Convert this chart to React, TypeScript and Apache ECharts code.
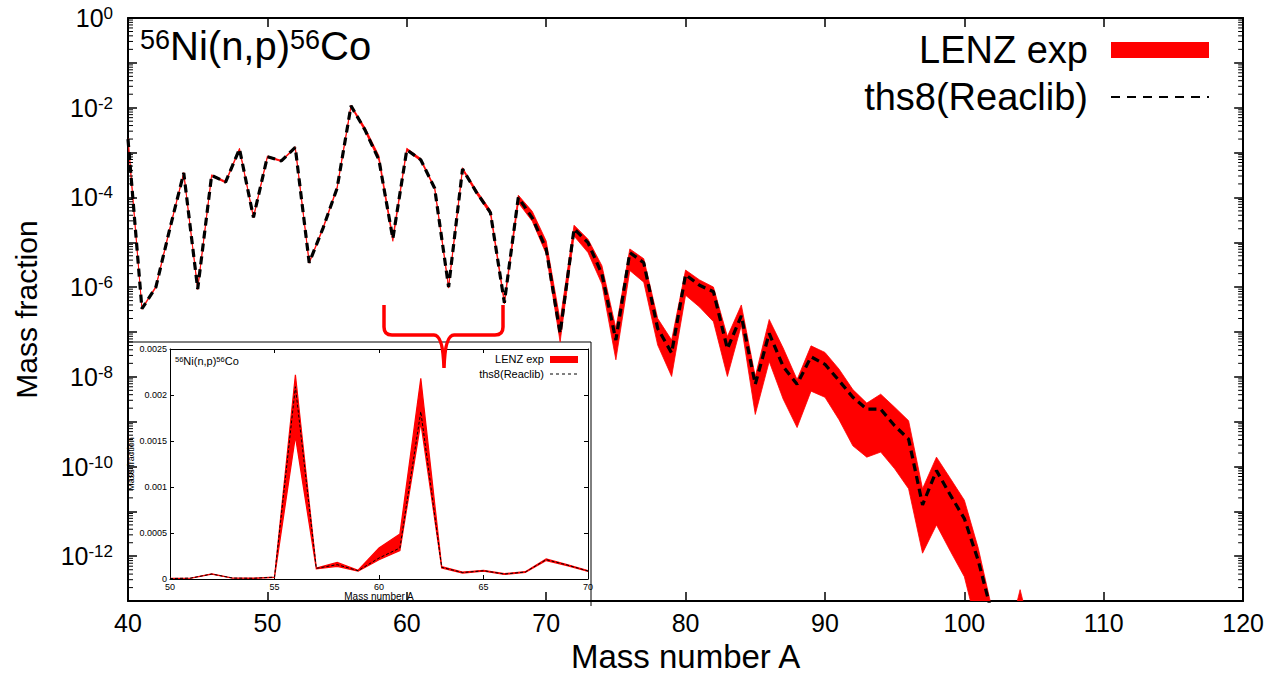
import React, { useEffect, useRef } from 'react';
import * as echarts from 'echarts';

const FONT = '"Liberation Sans", Arial, Helvetica, sans-serif';

// ---------- main plot data (log scale) ----------
const massNumbers = [
  40, 41, 42, 43, 44, 45, 46, 47, 48, 49,
  50, 51, 52, 53, 54, 55, 56, 57, 58, 59,
  60, 61, 62, 63, 64, 65, 66, 67, 68, 69,
  70, 71, 72, 73, 74, 75, 76, 77, 78, 79,
  80, 81, 82, 83, 84, 85, 86, 87, 88, 89,
  90, 91, 92, 93, 94, 95, 96, 97, 98, 99,
  100, 101, 102, 103, 104, 105,
];

const ths8Reaclib = [
  2.0e-3, 3.3e-7, 1.0e-6, 2.0e-5, 3.5e-4, 9.1e-7, 3.1e-4, 2.2e-4, 1.2e-3, 3.6e-5,
  8.1e-4, 6.5e-4, 1.3e-3, 3.5e-6, 2.1e-5, 1.6e-4, 1.1e-2, 3.2e-3, 6.9e-4, 1.2e-5,
  1.15e-3, 6.9e-4, 1.6e-4, 1.0e-6, 4.3e-4, 1.3e-4, 4.6e-5, 4.5e-7, 1.0e-4, 3.5e-5,
  7.1e-6, 9.3e-8, 2.0e-5, 9.8e-6, 1.95e-6, 6.6e-8, 5.9e-6, 3.5e-6, 1.2e-7, 3.4e-8,
  1.9e-6, 1.1e-6, 7.9e-7, 4.2e-8, 2.3e-7, 6.8e-9, 9.3e-8, 1.7e-8, 6.8e-9, 2.8e-8,
  1.9e-8, 8.3e-9, 3.5e-9, 1.9e-9, 1.9e-9, 8.1e-10, 4.1e-10, 1.4e-11, 8.1e-11, 2.3e-11,
  6.9e-12, 7.9e-13, 5.0e-14,
];

const lenzUpper = [
  2.1e-3, 3.4e-7, 1.05e-6, 2.1e-5, 3.6e-4, 9.4e-7, 3.2e-4, 2.3e-4, 1.25e-3, 3.7e-5,
  8.4e-4, 6.7e-4, 1.35e-3, 3.6e-6, 2.2e-5, 1.7e-4, 1.15e-2, 3.6e-3, 8.5e-4, 1.3e-5,
  1.25e-3, 7.4e-4, 1.7e-4, 1.05e-6, 4.6e-4, 1.45e-4, 5.2e-5, 5.0e-7, 1.12e-4, 4.9e-5,
  1.07e-5, 1.8e-7, 2.4e-5, 1.17e-5, 3.0e-6, 1.2e-7, 7.1e-6, 4.3e-6, 2.0e-7, 6.6e-8,
  2.4e-6, 1.45e-6, 1.0e-6, 7.9e-8, 4.0e-7, 1.02e-8, 1.9e-7, 4.4e-8, 8.7e-9, 4.9e-8,
  3.5e-8, 1.5e-8, 5.2e-9, 2.6e-9, 4.1e-9, 2.1e-9, 1.05e-9, 3.2e-11, 1.62e-10, 5.4e-11,
  1.78e-11, 1.5e-12, 6.3e-14, 1.0e-14, 1.8e-13, 1.0e-14,
];

const lenzLower = [
  1.95e-3, 3.2e-7, 9.7e-7, 1.95e-5, 3.4e-4, 8.8e-7, 3.0e-4, 2.1e-4, 1.15e-3, 3.5e-5,
  7.8e-4, 6.3e-4, 1.25e-3, 3.4e-6, 2.0e-5, 1.55e-4, 1.05e-2, 3.0e-3, 6.6e-4, 1.05e-5,
  1.1e-3, 6.5e-4, 1.55e-4, 9.5e-7, 4.1e-4, 1.2e-4, 4.2e-5, 4.2e-7, 7.6e-5, 2.95e-5,
  5.5e-6, 6.0e-8, 1.38e-5, 5.9e-6, 1.17e-6, 2.4e-8, 2.34e-6, 1.29e-6, 5.1e-8, 1.02e-8,
  6.6e-7, 3.6e-7, 1.7e-7, 1.02e-8, 1.41e-7, 1.45e-9, 2.2e-8, 3.2e-9, 7.4e-10, 4.8e-9,
  3.5e-9, 1.12e-9, 2.9e-10, 1.62e-10, 2.1e-10, 8.9e-11, 3.2e-11, 1.17e-12, 5.0e-12, 1.29e-12,
  3.5e-13, 2.0e-14, 3.2e-15, 1.0e-15, 3.2e-15, 1.0e-15,
];

// ---------- inset data (linear scale) ----------
const insetMass = [50, 51, 52, 53, 54, 55, 56, 57, 58, 59, 60, 61, 62, 63, 64, 65, 66, 67, 68, 69, 70];
const insetThs8 = [
  0.000005, 0.00001, 0.000054, 0.00001, 0.000008, 0.00002, 0.00209, 0.000116, 0.000156, 0.00009,
  0.000228, 0.000337, 0.00182, 0.000127, 0.00007, 0.00009, 0.000054, 0.000076, 0.00021, 0.000152, 0.000087,
];
const insetUpper = [
  0.000006, 0.000011, 0.000056, 0.000011, 0.000009, 0.000022, 0.00222, 0.00012, 0.00018, 0.000095,
  0.000337, 0.00049, 0.00218, 0.000135, 0.000075, 0.000095, 0.000058, 0.00008, 0.000218, 0.000158, 0.00009,
];
const insetLower = [
  0.000004, 0.000009, 0.000052, 0.000009, 0.000007, 0.000018, 0.00155, 0.00011, 0.000138, 0.000085,
  0.00021, 0.00031, 0.0017, 0.00012, 0.000065, 0.000085, 0.00005, 0.000072, 0.0002, 0.000145, 0.000084,
];

// ---------- axis ticks ----------
const mainXTicks = { min: 40, max: 120, interval: 10 };
const insetXTicks = { min: 50, max: 70, interval: 5 };
const insetYTicks = { min: 0, max: 0.0025, interval: 0.0005 };
const logMin = 1e-13;
const logMax = 1;
const minorMantissas = [2, 3, 4, 5, 6, 7, 8, 9];
const minorDecades = [-13, -12, -11, -10, -9, -8, -7, -6, -5, -4, -3, -2, -1];

const BRACE_PATH =
  'M384,305 L384,327 Q384,335 392,335 L434,335 Q443,335 444,368 Q445,335 454,335 L495,335 Q503,335 503,327 L503,305';

let shapeRegistered = false;
function registerShapes() {
  if (shapeRegistered) return;
  echarts.graphic.registerShape('brace', echarts.graphic.extendPath(BRACE_PATH, {}));
  shapeRegistered = true;
}

function bandSeries(name: string, xs: number[], up: number[], lo: number[], xi: number, yi: number, stroke: number) {
  return {
    type: 'custom',
    name,
    xAxisIndex: xi,
    yAxisIndex: yi,
    clip: true,
    z: 2,
    silent: true,
    data: [[xs[0], up[0]]],
    renderItem: (_params: any, api: any) => {
      const pts: number[][] = [];
      for (let i = 0; i < xs.length; i++) pts.push(api.coord([xs[i], up[i]]));
      for (let i = xs.length - 1; i >= 0; i--) pts.push(api.coord([xs[i], lo[i]]));
      return {
        type: 'polygon',
        shape: { points: pts },
        style: { fill: '#ff0000', stroke: '#ff0000', lineWidth: stroke, lineJoin: 'miter' },
      };
    },
  };
}

const blackLine = (w: number) => ({ show: true, onZero: false, lineStyle: { color: '#000', width: w } });

export default function App() {
  const ref = useRef<HTMLDivElement>(null);
  useEffect(() => {
    registerShapes();
    const el = ref.current!;
    const chart = echarts.init(el, null, { renderer: 'svg' });

    const logAxisCommon = {
      gridIndex: 0, type: 'log', logBase: 10, min: logMin, max: logMax, interval: 1, splitNumber: 13,
      axisLine: blackLine(2),
      axisTick: { inside: true, length: 9, lineStyle: { color: '#000', width: 1.5 } },
      splitLine: { show: false },
    };

    const option: any = {
      animation: false,
      backgroundColor: '#ffffff',
      grid: [
        { left: 128, top: 18, width: 1118, height: 588 },
        { left: 170, top: 349, width: 418, height: 230 },
      ],
      xAxis: [
        {
          gridIndex: 0, type: 'value', position: 'bottom', ...mainXTicks,
          axisLine: blackLine(2),
          axisTick: { inside: true, length: 9, lineStyle: { color: '#000', width: 1.5 } },
          axisLabel: { fontSize: 25, color: '#000', fontFamily: FONT, margin: 9 },
          splitLine: { show: false },
          name: 'Mass number A', nameLocation: 'middle', nameGap: 32,
          nameTextStyle: { fontSize: 33, color: '#000', fontFamily: FONT },
        },
        {
          gridIndex: 0, type: 'value', position: 'top', ...mainXTicks,
          axisLine: blackLine(2),
          axisTick: { inside: true, length: 9, lineStyle: { color: '#000', width: 1.5 } },
          axisLabel: { show: false },
          splitLine: { show: false },
        },
        {
          gridIndex: 1, type: 'value', position: 'bottom', ...insetXTicks,
          axisLine: blackLine(1),
          axisTick: { inside: true, length: 4, lineStyle: { color: '#000', width: 1 } },
          axisLabel: { fontSize: 9, color: '#000', fontFamily: FONT, margin: 3 },
          splitLine: { show: false },
          name: 'Mass number A', nameLocation: 'middle', nameGap: 10,
          nameTextStyle: { fontSize: 10, color: '#000', fontFamily: FONT },
        },
        {
          gridIndex: 1, type: 'value', position: 'top', ...insetXTicks,
          axisLine: blackLine(1),
          axisTick: { inside: true, length: 4, lineStyle: { color: '#000', width: 1 } },
          axisLabel: { show: false },
          splitLine: { show: false },
        },
      ],
      yAxis: [
        {
          ...logAxisCommon, position: 'left',
          axisLabel: {
            margin: 15,
            showMinLabel: true,
            showMaxLabel: true,
            formatter: (v: number) => {
              const e = Math.round(Math.log10(v));
              return e % 2 === 0 ? `{b|10}{s|${e}}` : '';
            },
            rich: {
              b: { fontSize: 25, color: '#000', fontFamily: FONT, lineHeight: 26 },
              s: { fontSize: 17, color: '#000', fontFamily: FONT, lineHeight: 14, verticalAlign: 'top' },
            },
          },
          name: 'Mass fraction', nameLocation: 'middle', nameGap: 87,
          nameTextStyle: { fontSize: 30, color: '#000', fontFamily: FONT },
        },
        {
          ...logAxisCommon, position: 'right',
          axisLabel: { show: false },
        },
        {
          gridIndex: 1, type: 'value', position: 'left', ...insetYTicks,
          axisLine: blackLine(1),
          axisTick: { inside: true, length: 4, lineStyle: { color: '#000', width: 1 } },
          axisLabel: { fontSize: 9, color: '#000', fontFamily: FONT, margin: 3 },
          splitLine: { show: false },
          name: 'Mass fraction', nameLocation: 'middle', nameGap: 30,
          nameTextStyle: { fontSize: 9, color: '#000', fontFamily: FONT },
        },
        {
          gridIndex: 1, type: 'value', position: 'right', ...insetYTicks,
          axisLine: blackLine(1),
          axisTick: { inside: true, length: 4, lineStyle: { color: '#000', width: 1 } },
          axisLabel: { show: false },
          splitLine: { show: false },
        },
      ],
      series: [
        bandSeries('LENZ exp', massNumbers, lenzUpper, lenzLower, 0, 0, 0.8),
        {
          type: 'line', name: 'ths8(Reaclib)', xAxisIndex: 0, yAxisIndex: 0,
          data: ths8Reaclib.map((v, i) => [massNumbers[i], v]),
          symbol: 'none', clip: true, z: 3,
          lineStyle: { color: '#000', width: 3.2, type: [8, 5] },
        },
        {
          type: 'custom', xAxisIndex: 0, yAxisIndex: 0, silent: true, z: 5,
          data: [[40, 1e-6]],
          renderItem: (params: any, api: any) => {
            const cs = params.coordSys;
            const children: any[] = [];
            for (const d of minorDecades) {
              for (const m of minorMantissas) {
                const y = api.coord([40, m * Math.pow(10, d)])[1];
                children.push({ type: 'line', shape: { x1: cs.x, y1: y, x2: cs.x + 5, y2: y }, style: { stroke: '#000', lineWidth: 1 } });
                children.push({ type: 'line', shape: { x1: cs.x + cs.width - 5, y1: y, x2: cs.x + cs.width, y2: y }, style: { stroke: '#000', lineWidth: 1 } });
              }
            }
            return { type: 'group', children };
          },
        },
        bandSeries('LENZ exp', insetMass, insetUpper, insetLower, 2, 2, 1.2),
        {
          type: 'line', name: 'ths8(Reaclib)', xAxisIndex: 2, yAxisIndex: 2,
          data: insetThs8.map((v, i) => [insetMass[i], v]),
          symbol: 'none', clip: true, z: 3,
          lineStyle: { color: '#000', width: 1, type: [3, 2] },
        },
      ],
      graphic: [
        // inset frame
        { type: 'polyline', shape: { points: [[128, 342], [591, 342], [591, 606]] }, style: { stroke: '#000', lineWidth: 1, fill: 'none' }, z: 1 },
        // main title
        {
          type: 'text', x: 140, y: 46,
          style: {
            text: '{s|56}{m|Ni(n,p)}{s|56}{m|Co}',
            verticalAlign: 'middle',
            rich: {
              m: { fontSize: 40, fontFamily: FONT, fill: '#000', lineHeight: 40 },
              s: { fontSize: 27, fontFamily: FONT, fill: '#000', lineHeight: 20, verticalAlign: 'top' },
            },
          },
        },
        // main legend
        { type: 'text', x: 1088, y: 50, style: { text: 'LENZ exp', fontSize: 38, fontFamily: FONT, fill: '#000', align: 'right', verticalAlign: 'middle' } },
        { type: 'rect', shape: { x: 1111, y: 42, width: 98, height: 16 }, style: { fill: '#ff0000' } },
        { type: 'text', x: 1088, y: 97, style: { text: 'ths8(Reaclib)', fontSize: 38, fontFamily: FONT, fill: '#000', align: 'right', verticalAlign: 'middle' } },
        { type: 'line', shape: { x1: 1111, y1: 97, x2: 1209, y2: 97 }, style: { stroke: '#000', lineWidth: 2, lineDash: [9, 7] } },
        // inset title
        {
          type: 'text', x: 175, y: 361,
          style: {
            text: '{s|56}{m|Ni(n,p)}{s|56}{m|Co}',
            verticalAlign: 'middle',
            rich: {
              m: { fontSize: 11, fontFamily: FONT, fill: '#000', lineHeight: 12 },
              s: { fontSize: 7.5, fontFamily: FONT, fill: '#000', lineHeight: 6, verticalAlign: 'top' },
            },
          },
        },
        // inset legend
        { type: 'text', x: 544, y: 359, style: { text: 'LENZ exp', fontSize: 11, fontFamily: FONT, fill: '#000', align: 'right', verticalAlign: 'middle' } },
        { type: 'rect', shape: { x: 550, y: 356, width: 28, height: 7 }, style: { fill: '#ff0000' } },
        { type: 'text', x: 544, y: 374, style: { text: 'ths8(Reaclib)', fontSize: 11, fontFamily: FONT, fill: '#000', align: 'right', verticalAlign: 'middle' } },
        { type: 'line', shape: { x1: 550, y1: 374, x2: 577, y2: 374 }, style: { stroke: '#000', lineWidth: 1, lineDash: [3, 3] } },
        // red brace
        { type: 'brace', x: 0, y: 0, z: 10, style: { stroke: '#ff0000', lineWidth: 3.5, fill: 'none' } },
      ],
    };

    chart.setOption(option);
    return () => chart.dispose();
  }, []);

  return (
    <div
      ref={ref}
      style={{ position: 'fixed', left: 0, top: 0, width: 1267, height: 678, background: '#fff' }}
    />
  );
}
